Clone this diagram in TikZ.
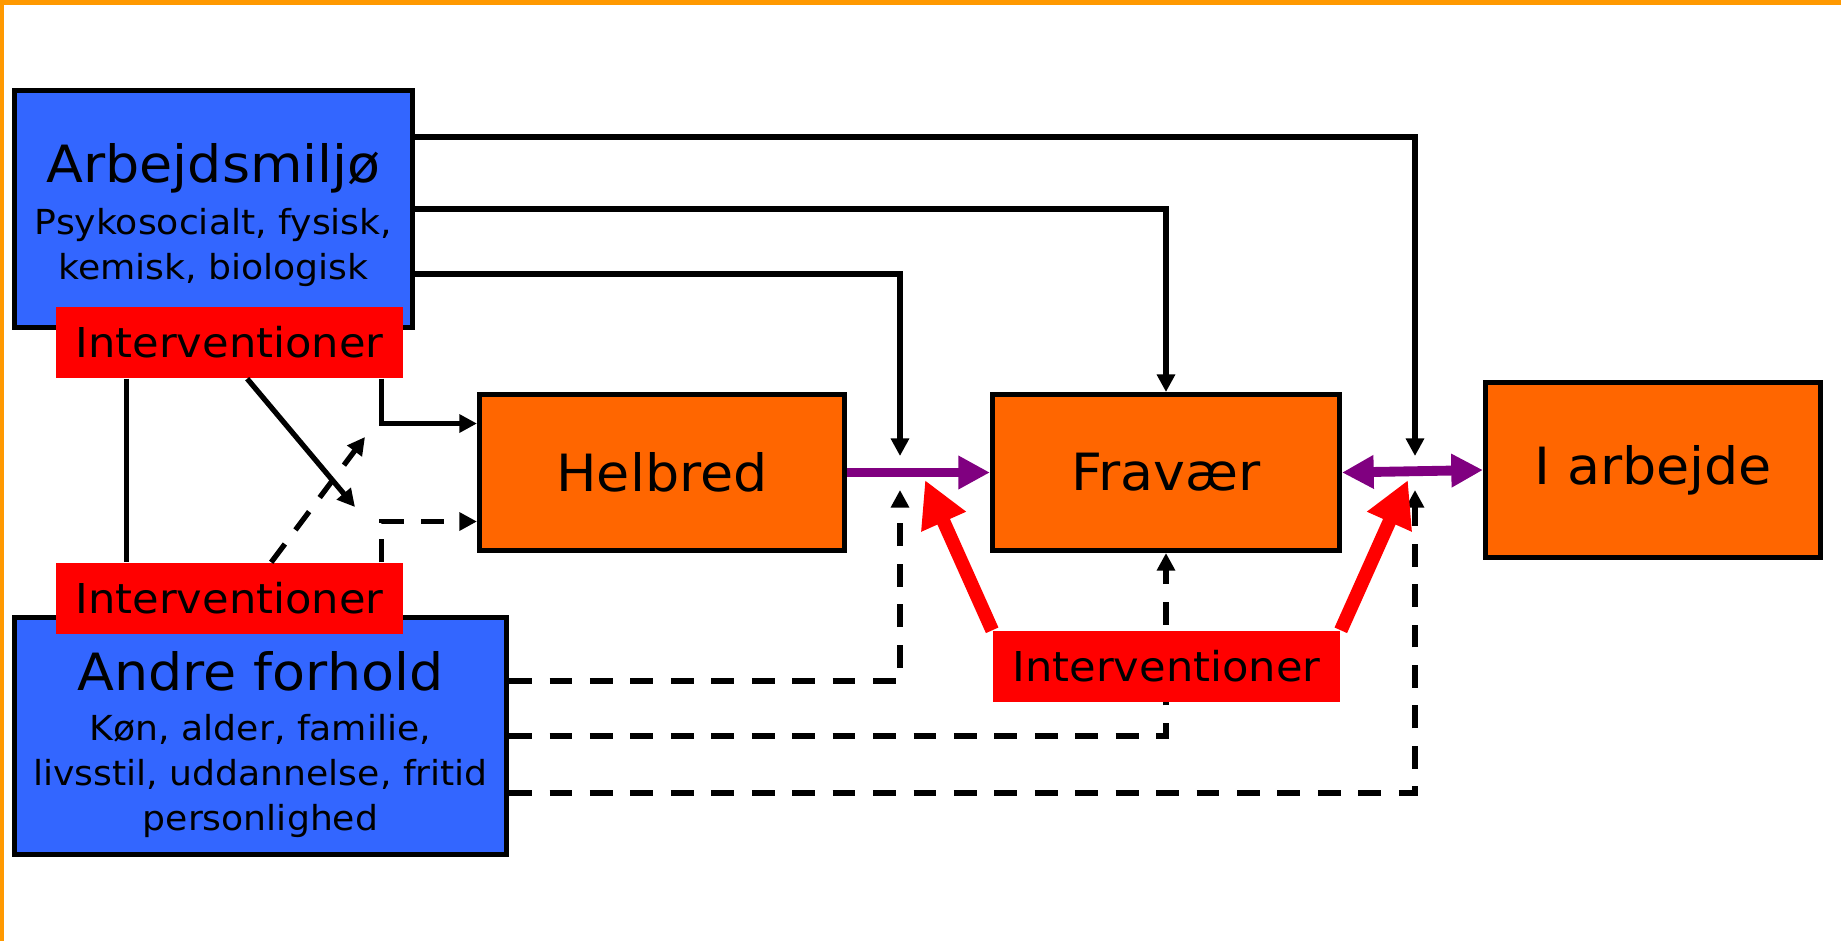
\documentclass[tikz,border=0pt]{standalone}
\usepackage{fontspec}
\setmainfont{DejaVu Sans}[FakeStretch=1.05]
\usetikzlibrary{arrows.meta,calc}

\definecolor{blaa}{HTML}{3366FF}
\definecolor{boksorange}{HTML}{FF6600}
\definecolor{ramme}{HTML}{FF9900}
\definecolor{lilla}{HTML}{800080}

\newcommand{\stor}{\fontsize{14.6}{17}\selectfont}
\newcommand{\lille}{\fontsize{9.8}{12.8}\selectfont}

\begin{document}
\begin{tikzpicture}[x=0.01cm,y=-0.01cm]
\tikzstyle{pil}=[-{Triangle[width=5pt,length=5pt]},line width=1.5pt]
\tikzstyle{stiplet}=[pil,dash pattern=on 6.5pt off 5pt]
\tikzstyle{lillapil}=[-{Triangle[width=9pt,length=9pt]},line width=2.8pt,lilla]
\tikzstyle{roedpil}=[-{Triangle[width=13pt,length=13pt]},line width=3.9pt,red]
\tikzset{boks/.style={draw,line width=1.4pt,fill=#1,align=center,inner sep=0pt},
boks/.default={boksorange},
indsats/.style={fill=red,minimum width=3.47cm,minimum height=0.71cm,font=\fontsize{11.7}{14}\selectfont}}

\useasboundingbox (0,0) rectangle (1841,941);
\fill[ramme] (0,0) rectangle (1841,5);
\fill[ramme] (0,0) rectangle (4,941);

\node[boks=blaa,minimum width=3.98cm,minimum height=2.37cm,font=\lille] (A) at (213.5,209)
  {\rule{0pt}{14.8pt}{\stor Arbejdsmiljø}\\[2pt] Psykosocialt, fysisk,\\ kemisk, biologisk};
\node[boks=blaa,minimum width=4.92cm,minimum height=2.37cm,font=\lille] (B) at (260.5,736)
  {\rule{0pt}{16pt}{\stor Andre forhold}\\[1.5pt] Køn, alder, familie,\\ livsstil, uddannelse, fritid\\ personlighed};
\node[indsats] (A1) at (229.5,342.5) {Interventioner};
\node[indsats] (B1) at (229.5,598.5) {Interventioner};
\node[boks,minimum width=3.65cm,minimum height=1.56cm,font=\stor] (H) at (662,472.5) {Helbred};
\node[boks,minimum width=3.47cm,minimum height=1.56cm,font=\stor] (F) at (1166,472.5) {Fravær};
\node[boks,minimum width=3.35cm,minimum height=1.75cm,font=\stor] (I) at (1653,470) {I arbejde};

\coordinate (h1) at (900,456);
\coordinate (h2) at (900,490);
\coordinate (a1) at (1415,456);
\coordinate (a2) at (1415,490);
\coordinate (d1) at (355,507);
\coordinate (d2) at (365,437);
\coordinate (r1) at (925,480);
\coordinate (r2) at (1408,480);

% fra arbejdsmiljoe
\draw[pil] ($(A.east)+(0,-72)$) -| (a1);
\draw[pil] (A.east) -| (F.north);
\draw[pil] ($(A.east)+(0,65)$) -| (h1);

% mellem interventionerne
\draw[line width=1.5pt] ($(A1.south west)+(71,0)$) -- ($(B1.north west)+(71,0)$);
\draw[pil] ($(A1.south west)+(192,0)$) -- (d1);
\draw[pil] ($(A1.south west)+(326,0)$) |- ($(H.west)+(0,-49)$);
\draw[stiplet] ($(B1.north west)+(216,0)$) -- (d2);
\draw[stiplet] ($(B1.north west)+(326,0)$) |- ($(H.west)+(0,49)$);

% fra andre forhold
\draw[stiplet] ($(B.east)+(0,-55)$) -| (h2);
\draw[stiplet] (B.east) -| (F.south);
\draw[stiplet] ($(B.east)+(0,57)$) -| (a2);

\draw[lillapil] (H.east) -- (F.west);
\draw[lillapil,{Triangle[width=9pt,length=9pt]}-{Triangle[width=9pt,length=9pt]}] (F.east) -- (I.west);

\node[indsats] (F1) at (1166.5,666.5) {Interventioner};
\draw[roedpil] (F1.north west) -- (r1);
\draw[roedpil] (F1.north east) -- (r2);

\end{tikzpicture}
\end{document}
